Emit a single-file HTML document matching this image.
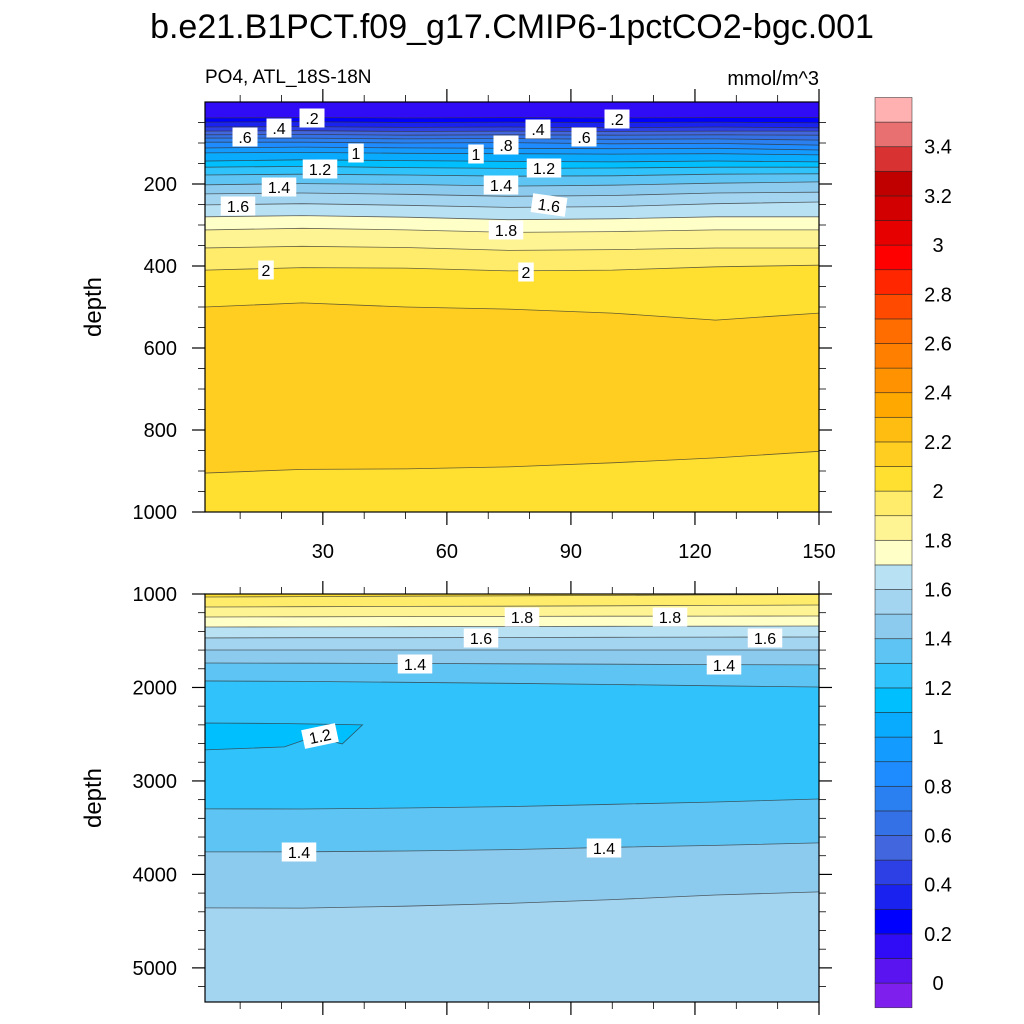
<!DOCTYPE html>
<html><head><meta charset="utf-8">
<style>
html,body{margin:0;padding:0;background:#fff;}
svg{display:block;font-family:"Liberation Sans",Arial,sans-serif;}
</style></head>
<body>
<svg id="chart" width="1024" height="1024" viewBox="0 0 1024 1024" xmlns="http://www.w3.org/2000/svg">
<text x="512" y="38" text-anchor="middle" font-size="34" fill="#000">b.e21.B1PCT.f09_g17.CMIP6-1pctCO2-bgc.001</text>
<text x="205" y="83" font-size="19" fill="#000">PO4, ATL_18S-18N</text>
<text x="819" y="85" text-anchor="end" font-size="20" fill="#000">mmol/m^3</text>
<g id="top"></g>
<g id="bot"></g>
<g id="cbar"></g>
</svg>
<script>
// ---- data ----
const xs = [1.5, 25, 50, 75, 100, 125, 150];
const topLevels = [0.2,0.3,0.4,0.5,0.6,0.7,0.8,0.9,1.0,1.1,1.2,1.3,1.4,1.5,1.6,1.7,1.8,1.9,2.0,2.1,2.1];
const topDepths = [
 [39,38,39,38,39,38,38],
 [49,48,50,49,50,49,51],
 [61,60,62,61,63,61,63],
 [71,70,72,71,72,71,71],
 [80,79,81,80,81,80,81],
 [88,88,90,89,91,90,93],
 [98,98,100,99,102,101,105],
 [112,110,112,113,114,113,117],
 [124,123,125,126,127,126,129],
 [144,141,143,145,146,144,146],
 [159,157,160,162,161,159,159],
 [178,176,178,181,180,176,175],
 [202,199,201,205,203,198,195],
 [224,222,225,230,228,222,220],
 [251,248,252,257,255,248,244],
 [280,277,281,287,285,280,280],
 [312,308,312,318,316,312,312],
 [356,352,355,362,360,356,356],
 [410,404,405,412,410,402,398],
 [500,490,500,505,515,532,515],
 [905,896,895,890,880,868,852]
];
const topBands = [0.15,0.25,0.35,0.45,0.55,0.65,0.75,0.85,0.95,1.05,1.15,1.25,1.35,1.45,1.55,1.65,1.75,1.85,1.95,2.05,2.15,2.05];
const botLevels = [2.0,1.9,1.8,1.7,1.6,1.5,1.4,1.3,1.3,1.4,1.5];
const botDepths = [
 [1032,1028,1024,1020,1015,1010,1005],
 [1139,1136,1133,1130,1126,1122,1118],
 [1246,1244,1242,1240,1238,1236,1235],
 [1353,1352,1350,1348,1346,1344,1342],
 [1470,1468,1467,1465,1463,1461,1460],
 [1599,1599,1599,1599,1599,1599,1599],
 [1738,1740,1743,1747,1751,1755,1759],
 [1930,1935,1945,1955,1968,1982,1995],
 [3299,3300,3290,3275,3250,3225,3193],
 [3759,3758,3750,3735,3710,3690,3663],
 [4358,4360,4340,4310,4270,4220,4187]
];
const botBands = [2.05,1.95,1.85,1.75,1.65,1.55,1.45,1.35,1.25,1.35,1.45,1.55];
const blobX = [1.5, 20, 39.6, 34.7, 27.7, 20.7, 1.5];
const blobD = [2380, 2385, 2400, 2604, 2529, 2636, 2668];
const blobVal = 1.15;
const cmap = ["#7f1fee","#5a14f0","#2f0cf5","#0000ff","#1a22ef","#2c40e6","#4266de","#3470e6","#2a80f0","#1e8cff","#149bff","#09abff","#00bfff","#30c2fa","#5ec4f4","#8ccaee","#a3d4f0","#b8e1f3","#ffffc8","#fff494","#ffec6a","#ffe030","#ffce20","#ffbd12","#ffa800","#ff9200","#ff8000","#ff6c00","#ff4a00","#ff2600","#ff0000","#e60000","#d20000","#c00000","#d83232","#e87070","#ffb0b0"];
const cbLabels = ["0","0.2","0.4","0.6","0.8","1","1.2","1.4","1.6","1.8","2","2.2","2.4","2.6","2.8","3","3.2","3.4"];
const cbLabelVals = [0,0.2,0.4,0.6,0.8,1,1.2,1.4,1.6,1.8,2,2.2,2.4,2.6,2.8,3,3.2,3.4];
const topLabels = [[".2",312,118,0],[".4",279,128,0],[".6",245,137,0],["1",356,153,0],["1.2",320,169,0],["1.4",279,187,0],["1.6",238,206,0],["2",266,270,0],[".2",617,119,0],[".4",538,129,0],[".6",584,137,0],[".8",506,145,0],["1",476,154,0],["1.2",544,168,0],["1.4",501,185,0],["1.6",549,205,8],["1.8",506,230,0],["2",526,272,0]];
const botLabels = [["1.8",522,617,0],["1.8",670,617,0],["1.6",481,638,0],["1.6",765,638,0],["1.4",415,664,0],["1.4",724,665,0],["1.2",320,736,-12],["1.4",299,852,0],["1.4",604,848,0]];

const NS="http://www.w3.org/2000/svg";
function mk(tag, attrs, parent){const e=document.createElementNS(NS,tag);for(const k in attrs)e.setAttribute(k,attrs[k]);parent.appendChild(e);return e;}
function colorOf(v){let i=Math.floor((v+0.1)/0.1+1e-6);i=Math.max(0,Math.min(cmap.length-1,i));return cmap[i];}
const X0=205,X1=819, XMIN=1.5, XMAX=150;
function sx(x){return X0+(x-XMIN)/(XMAX-XMIN)*(X1-X0);}

function panel(g, y0, y1, dmin, dmax, levels, depths, bands){
  const sy=d=>y0+(d-dmin)/(dmax-dmin)*(y1-y0);
  const clip="clip"+y0;
  const defs=mk("defs",{},g);
  const cp=mk("clipPath",{id:clip},defs);
  mk("rect",{x:X0,y:y0,width:X1-X0,height:y1-y0},cp);
  const fills=mk("g",{"clip-path":"url(#"+clip+")"},g);
  const base=mk("rect",{x:X0,y:y0,width:X1-X0,height:y1-y0,fill:colorOf(bands[0])},fills);
  
  
  for(let i=0;i<levels.length;i++){
    let d="M"+sx(xs[0])+","+sy(depths[i][0]);
    for(let j=1;j<xs.length;j++) d+=" L"+sx(xs[j]).toFixed(1)+","+sy(depths[i][j]).toFixed(1);
    d+=" L"+X1+","+(y1+5)+" L"+X0+","+(y1+5)+" Z";
    const p=mk("path",{d:d,fill:colorOf(bands[i+1])},fills);
    
    
  }
  for(let i=0;i<levels.length;i++){
    let d="M"+sx(xs[0])+","+sy(depths[i][0]);
    for(let j=1;j<xs.length;j++) d+=" L"+sx(xs[j]).toFixed(1)+","+sy(depths[i][j]).toFixed(1);
    const l=mk("path",{d:d,fill:"none",stroke:"#333","stroke-width":0.8,"stroke-opacity":0.75},fills);
    
    
  }
  return {sy, fills};
}
function axes(g,y0,y1,dmin,dmax,yTicks,yMinor,showXLabels){
  const sy=d=>y0+(d-dmin)/(dmax-dmin)*(y1-y0);
  const fr=mk("rect",{x:X0,y:y0,width:X1-X0,height:y1-y0,fill:"none",stroke:"#000","stroke-width":1.2},g);
  
  
  for(let x=10;x<=150;x+=10){
    const major=x%30===0, L=major?13:7;
    mk("line",{x1:sx(x),x2:sx(x),y1:y1,y2:y1+L,stroke:"#000","stroke-width":major?1.2:0.8},g);
    mk("line",{x1:sx(x),x2:sx(x),y1:y0,y2:y0-L,stroke:"#000","stroke-width":major?1.2:0.8},g);
    if(major&&showXLabels){
      const t=mk("text",{x:sx(x),y:y1+46,"text-anchor":"middle","font-size":20},g);t.textContent=x;
      
      
    }
  }
  for(const d of yMinor){
    mk("line",{x1:X0,x2:X0-7,y1:sy(d),y2:sy(d),stroke:"#000","stroke-width":0.8},g);
    mk("line",{x1:X1,x2:X1+7,y1:sy(d),y2:sy(d),stroke:"#000","stroke-width":0.8},g);
  }
  for(const d of yTicks){
    mk("line",{x1:X0,x2:X0-13,y1:sy(d),y2:sy(d),stroke:"#000","stroke-width":1.2},g);
    mk("line",{x1:X1,x2:X1+13,y1:sy(d),y2:sy(d),stroke:"#000","stroke-width":1.2},g);
    const t=mk("text",{x:177,y:sy(d)+7,"text-anchor":"end","font-size":20},g);t.textContent=d;
    
    
  }
  const yc=(y0+y1)/2;
  const t=mk("text",{x:0,y:0,"text-anchor":"middle","font-size":24,transform:"translate(101,"+yc+") rotate(-90)"},g);
  t.textContent="depth";
  
  
}
function drawLabels(g,labels){
  for(const [s,x,y,r] of labels){
    const w=s.length*9.5+6;
    const lg=mk("g",{transform:"translate("+x+","+y+") rotate("+r+")"},g);
    
    
    mk("rect",{x:-w/2,y:-9.5,width:w,height:19,fill:"#fff"},lg);
    const t=mk("text",{x:0,y:6,"text-anchor":"middle","font-size":16},lg);t.textContent=s;
  }
}
const gt=document.getElementById("top");
const topMinor=[];for(let d=50;d<1000;d+=50)if(d%200)topMinor.push(d);
panel(gt,102,512,0,1000,topLevels,topDepths,topBands);
drawLabels(gt,topLabels);
axes(gt,102,512,0,1000,[200,400,600,800,1000],topMinor,true);
const gb=document.getElementById("bot");
const botMinor=[];for(let d=1200;d<5400;d+=200)if(d%1000)botMinor.push(d);
const bp=panel(gb,594,1002,1000,5365,botLevels,botDepths,botBands);
let bd="M"+sx(blobX[0])+","+bp.sy(blobD[0]);
for(let i=1;i<blobX.length;i++) bd+=" L"+sx(blobX[i]).toFixed(1)+","+bp.sy(blobD[i]).toFixed(1);
bd+=" Z";
const blob=mk("path",{d:bd,fill:colorOf(blobVal),stroke:"#333","stroke-width":0.8,"stroke-opacity":0.75},bp.fills);


drawLabels(gb,botLabels);
axes(gb,594,1002,1000,5365,[1000,2000,3000,4000,5000],botMinor,false);
const gc=document.getElementById("cbar");
const CB0=97.5, CBH=24.6, CBX=875, CBW=37;
for(let i=0;i<cmap.length;i++){
  const y=CB0+(cmap.length-1-i)*CBH;
  const r=mk("rect",{x:CBX,y:y,width:CBW,height:CBH,fill:cmap[i],stroke:"#222","stroke-width":0.7,"stroke-opacity":0.7},gc);
  
  
}
for(let i=0;i<cbLabels.length;i++){
  const v=cbLabelVals[i];
  const yy=CB0+cmap.length*CBH-(v+0.1)/0.1*CBH;
  const t=mk("text",{x:938,y:yy+7,"text-anchor":"middle","font-size":20},gc);
  t.textContent=cbLabels[i];
  
  
}
</script>
</body></html>
